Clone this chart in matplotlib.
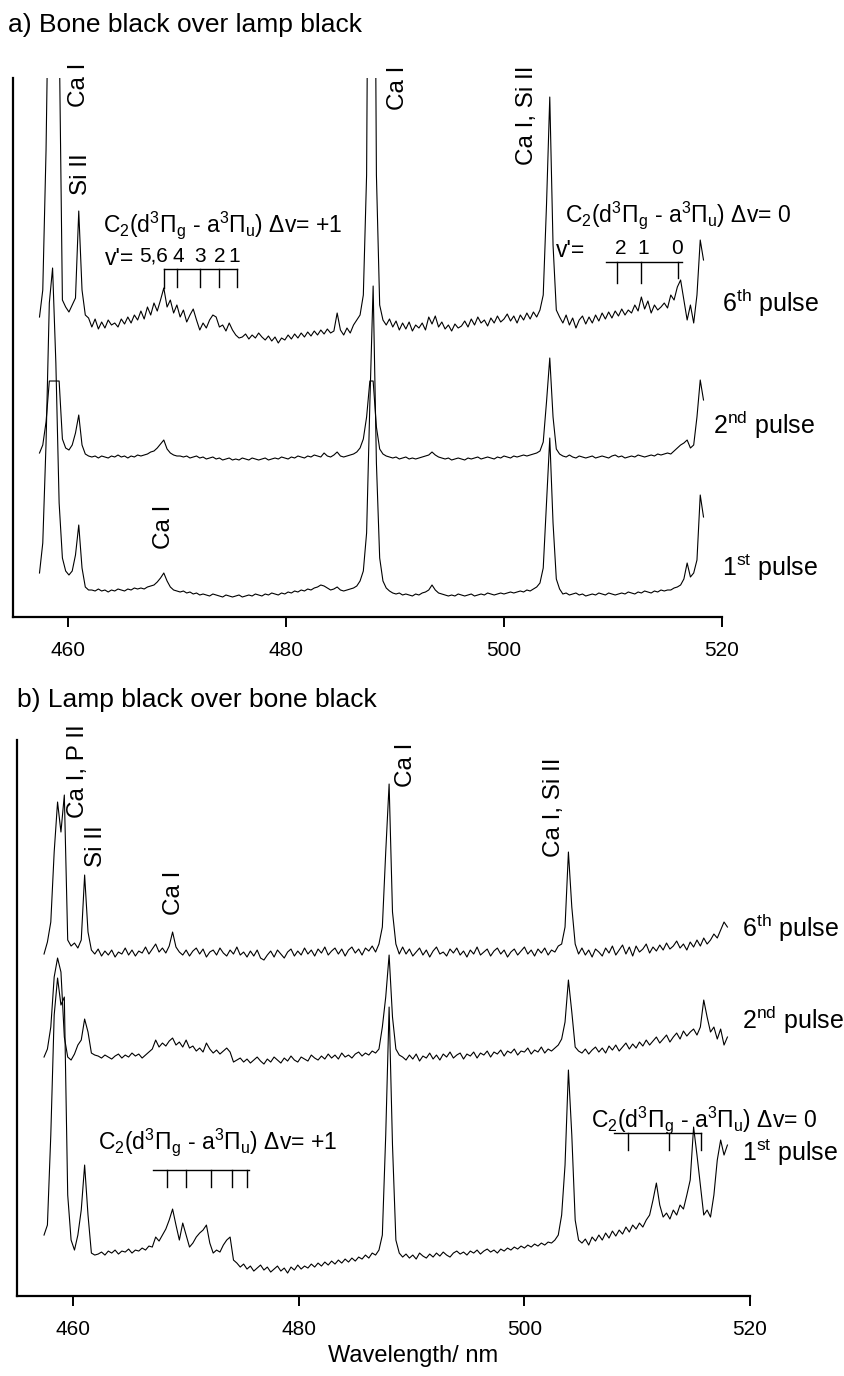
import numpy as np
import matplotlib
matplotlib.use("Agg")
import matplotlib.pyplot as plt

plt.rcParams['font.family'] = ['Liberation Sans', 'DejaVu Sans']
plt.rcParams['mathtext.fontset'] = 'custom'
plt.rcParams['mathtext.rm'] = 'Liberation Sans'
plt.rcParams['mathtext.it'] = 'Liberation Sans:italic'
plt.rcParams['mathtext.bf'] = 'Liberation Sans:bold'

# detector channels start at 457.4 nm, 0.3 nm apart
WL_START = 457.4
WL_STEP = 0.3

# a) bone black over lamp black - intensities (a.u.) relative to each baseline
A_6TH = [8, 35, 175, 400, 700, 650, 300, 25, 18, 13, 20, 27, 114, 35, 10, 7,
         -2, 6, -4, 3, -3, 5, 0, 2, -2, 6, 1, 8, 2, 10, 5, 14, 6, 18, 10,
         22, 14, 25, 37, 18, 25, 12, 20, 8, 15, 3, 10, 16, 5, -5, 2, -3, 5, 10, 8,
         -2, 0, -6, 2, -5, -10, -13,
         -12, -9, -14, -10, -13, -8, -12, -15, -11, -16, -12, -18, -13, -15, -10, -14,
         -9, -13, -8, -12, -7, -11, -6, -10, -5, -9, -4, -8,
         -6, 12, -5, -10, -3, -8, 0, 5, 10, 30, 150, 700, 700, 150, 20, 5,
         0, 6, -2, 4, -5, 2, -4, 3, -6, 0, -3, 2, -5, 8, 1, 9, -2, 3, -4, 0,
         -6, 1, -3, -1, 4, -2, 6, 0, 8, 2, 5, -1, 7, 2, 9, 3, 6, 11, 4, 9,
         2, 10, 5, 12, 6, 13, 8, 15, 30, 120, 228, 80, 15,
         8, 2, 10, 0, 7, -3, 5, 9, 1, 8, 2, 10, 4, 12, 6, 13, 7, 14, 9, 16,
         10, 15, 12, 20, 14, 28, 16, 24, 12, 20, 15, 18, 22, 17, 30, 25, 38, 45, 25, 5,
         20, 2, 30, 85, 65]
A_2ND = [4, 12, 35, 76, 76, 76, 76, 18, 9, 7, 12, 24, 42, 12, 3, 1,
         0, 1, -1, 1, 0, -1, 1, 0, 2, 0, 1, -1, 1, 0, 2, 1, 2, 3, 5,
         6, 9, 13, 17, 8, 4, 2, 1,
         1, 0, 1, -1, 0, 1, -1, 0, -2, -1, 0, -2, -1, -3, -2, -1, -3, -2, -3, -1,
         -2, -3, -1, -2, -3, -2, -1, -3, -2, -1, -2, 0, -1, -2, 0, -1, 1, 0, -1, 1,
         0, 2, 1, 0,
         4, 1, 0, 2, 5, 1, 0, 1, 2, 3,
         5, 9, 18, 40, 76, 76, 30, 8, 3,
         1, 0, -1, 0, -2, -1, 0, -2, -1, -2, -1, 0, 1, 2,
         5, 2,
         0, -1, -2, -1, -3, -2, -1, -2, -3, -1, -2, -1, 0, -2, -1, 0, -1, -2, 0, -1,
         1, 0, -1, 1, 0, 1, 2, 1, 2, 3, 4, 6,
         15, 55, 99, 40, 8, 3,
         1, 0, 2, 0, -1, 1, 0, -1, 0, 1, -1, 0, 1, 0, -1, 1, 2, 0, 1, -1,
         0, 1, 0, 2, 1, 0, 1, 2, 1, 3, 2, 3,
         4, 3, 6, 9, 12, 14, 17, 9, 12, 40, 77, 57]
A_1ST = [20, 50, 150, 290, 325, 230, 90, 35, 22, 18, 22, 38, 68, 25, 6, 3,
         3, 2, 4, 2, 3, 1, 3, 2, 4, 3, 2, 4, 3, 5, 4, 5, 4, 6, 7,
         8, 11, 15, 20, 12, 6, 3, 2,
         1, 2, 0, 1, -1, 0, -2, -1, -2, -3, -1, -2, -3, -4, -2, -3, -4, -3, -2, -4,
         -3, -2, -3, -1, -2, -3, -1, -2, 0, -1, -2, 0, -1, 1, 0, 2, 1, 3, 2, 4,
         3, 5, 6, 8,
         7, 5, 3, 4, 6, 3, 2, 3, 4, 5,
         7, 12, 22, 60, 190, 307, 130, 35, 12, 5,
         2, 0, -1, 0, -2, -1, -2, -3, -1, -2, 0, 1, 3,
         8, 3,
         0, -1, -2, -3, -2, -3, -1, -2, -3, -2, -1, -3, -2, -1, -2, 0, -1, -2, -1, 0,
         -1, 0, 1, 0, 1, 2, 1, 3, 2, 4, 6, 10,
         25, 90, 155, 70, 14, 4,
         -1, 0, -2, -1, 0, -2, -1, -3, -2, -1, -2, 0, -1, -2, 0, -1, -2, -1, 0, -1,
         1, 0, -1, 1, 0, 2, 1, 0, 2, 1, 3, 2,
         3, 3, 5, 6, 8, 14, 30, 16, 20, 33, 98, 76]

# b) lamp black over bone black
B_6TH = [-2, 10, 30, 100, 150, 120, 157, 12, 6, 9, 4, 12, 77, 20, 2,
         -2, 3, -4, 1, -3, 2, -5, 0, -2, 4, -3, 2, -4, 1, -1, 5, -2, 3, 8, 0, 4, -1, 6,
         20, 5, 0,
         -3, 2, -4, 1, 4, -2, 3, -5, 0, 2, -3, 4, -1, -4, 2, -2, 5, -3, 0, -5,
         1, -4, 2, -6, -8, -3, 1, -5, 2, -2, -6, 0, 3, -4, 1, -3, 4, -2, 2, -4,
         3, -1, 5, -3, 1, 4, -2, 3, -4, 2, 5, -1, 3, -3, 4, 1, 6, 0, 8,
         25, 100, 168, 40, 8, -2,
         5, -2, 3, -4, 0, 4, -3, 2, -5, 1, 5, -2, 0, -4, 3, -1, 4, -3, 1, -5,
         2, -2, 5, -3, 0, 3, -4, 1, 4, -2, 2, -5, 0, 3, -3, 1, 5, -2, 2, -4,
         3, -1, 4, -3, 2, 0, 6,
         8, 25, 100, 45, 8,
         -2, 4, -3, 2, -5, 3, 0, -4, 4, -1, 6, -3, 2, 7, -2, 5, -4, 6, 0, 3,
         8, -1, 5, 1, 7, 2, 9, 3, 6, 11, 4, 8, 2, 10, 5, 12, 6, 14, 8, 12,
         18, 14, 22, 30, 25]
B_2ND = [0, 8, 30, 80, 99, 85, 20, 0, -3, 3, 12, 17, 38, 25, 4, 2,
         1, -1, 2, 0, -2, 1, 3, -1, 2, 0, 4, 1, 3, -1, 2, 5, 8,
         17, 10, 14, 11, 16, 19, 12, 15, 10, 17, 9, 11, 6, 9, 5, 14, 8, 4, 7, 3,
         6, 9, 5, -5, -3,
         -1, -5, -2, -6, -3, 0, -4, -7, -2, -5, 0, -3, -6, -1, -4, 1, -3, -5, 0, -2,
         -4, 2, -1, -3, 1, -2, 3, -1, 2, -2, 4, 0, 2, -1, 3, 5, 1, 4, 2, 6, 4, 8,
         30, 60, 102, 40, 8, 2,
         0, -3, 2, -2, 3, -4, 1, -1, 4, -2, 2, -3, 3, 0, 5, -1, 2, 4, -2, 3,
         1, 5, -1, 4, 2, 6, 0, 5, 3, 7, 1, 6, 4, 8, 2, 6, 5, 9, 3, 7,
         5, 10, 4, 8, 6, 9, 12,
         18, 35, 77, 45, 10, 6,
         4, 8, 3, 7, 10, 5, 9, 4, 11, 7, 12, 6, 10, 14, 8, 13, 9, 15, 11, 17,
         12, 16, 20, 14, 18, 22, 15, 20, 24, 18, 26, 21, 25, 28, 22, 30,
         57, 40, 25, 30, 18, 28, 12, 20]
B_1ST = [20, 30, 120, 240, 277, 250, 258, 60, 15, 5, 20, 45, 90, 40, 2, 0,
         1, 3, 0, 4, 2, 5, 1, 4, 3, 6, 2, 5, 4, 7, 5, 9, 8,
         18, 14, 20, 26, 35, 46, 30, 15, 32, 20, 8, 12, 18, 22, 25, 30, 12, 2, 5, 3,
         10, 15, 18, -5, -8,
         -12, -9, -14, -11, -16, -13, -10, -15, -12, -17, -14, -11, -16, -13, -18, -12,
         -15, -10, -14, -11, -13, -9, -12, -8, -11, -7, -10, -6, -9, -5, -8, -4, -7, -3,
         -6, -2, -4, 0, -3, 2, 0, 5,
         20, 120, 248, 110, 15, 2,
         -2, 1, -3, 0, -4, 2, -1, -3, 1, -2, 2, -1, 3, 0, -2, 2, 4, 1, 3, 0,
         4, 2, 5, 1, 4, 6, 3, 5, 2, 6, 4, 7, 5, 8, 6, 9, 7, 10, 8, 11,
         9, 12, 10, 13, 12, 15, 20,
         40, 90, 185, 120, 35, 15,
         12, 16, 10, 18, 14, 20, 15, 22, 17, 24, 19, 25, 21, 28, 23, 30, 26, 32, 28, 35,
         40, 55, 72, 50, 38, 42, 36, 45, 40, 50, 46, 60, 75, 128, 100, 70, 40, 45, 38,
         60, 95, 115, 100, 110]

PULSES = ['1$^{\\rm st}$ pulse', '2$^{\\rm nd}$ pulse', '6$^{\\rm th}$ pulse']

# C2 Swan band heads marked in the figure (nm)
A_HEADS_P1 = [468.8, 470.0, 472.1, 473.9, 475.5]
A_HEADS_0 = [510.4, 512.6, 516.0]
B_HEADS_P1 = [468.3, 470.0, 472.2, 474.1, 475.4]
B_HEADS_0 = [509.2, 512.8, 515.7]

C2_P1 = 'C$_2$(d$^3$Π$_{\\rm g}$ - a$^3$Π$_{\\rm u}$) Δv= +1'
C2_0 = 'C$_2$(d$^3$Π$_{\\rm g}$ - a$^3$Π$_{\\rm u}$) Δv= 0'


def channels(vals):
    return WL_START + WL_STEP * np.arange(len(vals))


def style_axis(ax, ytop):
    ax.set_xlim(455, 520)
    ax.set_ylim(0, ytop)
    for s in ['top', 'right']:
        ax.spines[s].set_visible(False)
    for s in ['left', 'bottom']:
        ax.spines[s].set_linewidth(1.6)
    ax.set_yticks([])
    ax.set_xticks([460, 480, 500, 520])
    ax.tick_params(axis='x', direction='out', length=7, width=1.4,
                   labelsize=15, pad=10)


def comb(ax, heads, y_line, y_tick, x0=None, x1=None):
    x0 = heads[0] if x0 is None else x0
    x1 = heads[-1] if x1 is None else x1
    ax.plot([x0, x1], [y_line, y_line], color='black', lw=1.0)
    for h, yt in zip(heads, y_tick):
        ax.plot([h, h], [y_line, yt], color='black', lw=1.0)


def label(ax, x, y, s, **kw):
    ax.text(x, y, s, rotation=90, ha='center', va='bottom', fontsize=17.5,
            clip_on=False, **kw)


fig = plt.figure(figsize=(8.44, 13.76), dpi=100)
ax_a = fig.add_axes([0.0158, 0.5516, 0.8397, 0.3917])
ax_b = fig.add_axes([0.0201, 0.0581, 0.8685, 0.4041])

# ---- panel a
for vals, off in zip([A_1ST, A_2ND, A_6TH], [24, 160, 292]):
    ax_a.plot(channels(vals), np.array(vals) + off, color='black', lw=0.8)
style_axis(ax_a, 539)

label(ax_a, 461.0, 510, 'Ca I')
label(ax_a, 461.2, 422, 'Si II')
label(ax_a, 490.3, 507, 'Ca I')
label(ax_a, 502.1, 452, 'Ca I, Si II')
label(ax_a, 468.8, 68, 'Ca I')

ax_a.text(463.2, 392, C2_P1, fontsize=16.5, ha='left', va='center')
ax_a.text(464.7, 359, "v'=", fontsize=16.5, ha='center', va='center')
for x, s in zip([467.9, 470.1, 472.1, 473.9, 475.3], ['5,6', '4', '3', '2', '1']):
    ax_a.text(x, 361, s, fontsize=15, ha='center', va='center')
comb(ax_a, A_HEADS_P1, 348, [329, 330, 330, 330, 330])

ax_a.text(505.6, 402, C2_0, fontsize=16.5, ha='left', va='center')
ax_a.text(506.1, 367, "v'=", fontsize=16.5, ha='center', va='center')
for x, s in zip([510.75, 512.8, 515.9], ['2', '1', '0']):
    ax_a.text(x, 369, s, fontsize=15, ha='center', va='center')
comb(ax_a, A_HEADS_0, 355, [334, 334, 339], x0=509.4, x1=516.3)

for (x, y), s in zip([(520.0, 49), (519.2, 192), (520.0, 314)], PULSES):
    ax_a.text(x, y, s, fontsize=18, ha='left', va='center', clip_on=False)

# ---- panel b
for vals, off in zip([B_1ST, B_2ND, B_6TH], [41, 239, 344]):
    ax_b.plot(channels(vals), np.array(vals) + off, color='black', lw=0.8)
style_axis(ax_b, 556)

label(ax_b, 460.4, 478, 'Ca I, P II')
label(ax_b, 462.0, 429, 'Si II')
label(ax_b, 468.9, 381, 'Ca I')
label(ax_b, 489.5, 509, 'Ca I')
label(ax_b, 502.6, 439, 'Ca I, Si II')

ax_b.text(462.2, 154, C2_P1, fontsize=16.5, ha='left', va='center')
comb(ax_b, B_HEADS_P1, 126, [109] * 5, x0=467.1, x1=475.6)
ax_b.text(505.9, 176, C2_0, fontsize=16.5, ha='left', va='center')
comb(ax_b, B_HEADS_0, 163, [146] * 3, x0=507.9, x1=515.7)

for (x, y), s in zip([(519.3, 143), (519.3, 276), (519.3, 368)], PULSES):
    ax_b.text(x, y, s, fontsize=18, ha='left', va='center', clip_on=False)

fig.text(8 / 844, 1 - 25 / 1376, 'a) Bone black over lamp black', fontsize=19,
         ha='left', va='center')
fig.text(17 / 844, 1 - 700 / 1376, 'b) Lamp black over bone black', fontsize=19,
         ha='left', va='center')
fig.text(413 / 844, 1 - 1356 / 1376, 'Wavelength/ nm', fontsize=17,
         ha='center', va='center')

fig.savefig('out.png', dpi=100)
